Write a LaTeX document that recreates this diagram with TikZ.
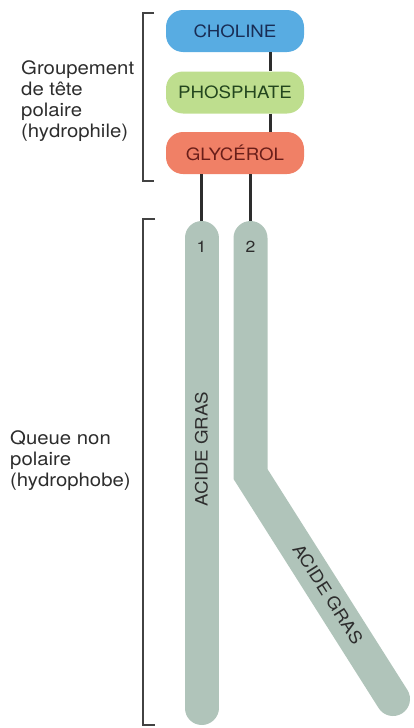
\documentclass[tikz,border=0pt]{standalone}
\usepackage{fontspec}
\setmainfont{TeX Gyre Heros}[FakeStretch=1.1]
\definecolor{cholfill}{RGB}{88,172,226}
\definecolor{choltext}{RGB}{25,45,85}
\definecolor{phosfill}{RGB}{190,222,142}
\definecolor{phostext}{RGB}{35,70,30}
\definecolor{glycfill}{RGB}{240,128,102}
\definecolor{glyctext}{RGB}{105,30,25}
\definecolor{barcol}{RGB}{176,196,186}
\definecolor{ink}{RGB}{45,45,45}
\tikzset{
  headbox/.style={rounded corners=17pt, minimum width=138pt, minimum height=42pt, inner sep=0pt, font=\fontsize{17}{20}\selectfont},
  link/.style={line width=3pt, draw=ink},
  bracket/.style={line width=1.3pt, draw=ink!90},
  bar/.style={line width=34pt, draw=barcol, line cap=round, line join=miter},
  sidetext/.style={align=left, inner sep=0pt, anchor=west, font=\fontsize{18.5}{21}\selectfont, text=ink},
  bartext/.style={inner sep=0pt, font=\fontsize{17}{20}\selectfont, text=ink}
}
\begin{document}
\begin{tikzpicture}[x=1pt,y=-1pt]
\useasboundingbox (0,0) rectangle (413,728);
% head boxes
\node[headbox, fill=cholfill, text=choltext] (chol) at (235,31) {CHOLINE};
\node[headbox, fill=phosfill, text=phostext] (phos) at (235,92.5) {PHOSPHATE};
\node[headbox, fill=glycfill, text=glyctext] (glyc) at (235,153) {GLYCÉROL};
% tail coordinates
\coordinate (t1) at (201.5,222);
\coordinate (t2) at (250.5,222);
\coordinate (b1s) at (201.5,238);
\coordinate (b1e) at (201.5,708);
\coordinate (b2s) at (250.5,238);
\coordinate (b2k) at (250.5,474);
\coordinate (b2e) at (393,699);
% connectors
\draw[link] ([xshift=35pt]chol.south) -- ([xshift=35pt]phos.north);
\draw[link] ([xshift=35pt]phos.south) -- ([xshift=35pt]glyc.north);
\draw[link] (glyc.south -| t1) -- (t1);
\draw[link] (glyc.south -| t2) -- (t2);
% tails
\draw[bar] (b1s) -- (b1e);
\draw[bar] (b2s) -- (b2k) -- (b2e);
\node[bartext, font=\fontsize{16}{18}\selectfont] (n1) at (201.5,247) {1};
\node[bartext, font=\fontsize{16}{18}\selectfont] (n2) at (250.5,247) {2};
\node[bartext, rotate=90] (ag1) at (201.5,449) {ACIDE GRAS};
\node[bartext, rotate=-57.4] (ag2) at (328,594) {ACIDE GRAS};
% brackets
\draw[bracket] (154,13) -- (143,13) -- (143,181) -- (154,181);
\draw[bracket] (155,219) -- (143,219) -- (143,725) -- (155,725);
% side labels
\node[sidetext] (headlab) at (21,101.5) {Groupement\\de tête\\polaire\\(hydrophile)};
\node[sidetext] (taillab) at (10,461) {Queue non\\polaire\\(hydrophobe)};
\end{tikzpicture}
\end{document}
